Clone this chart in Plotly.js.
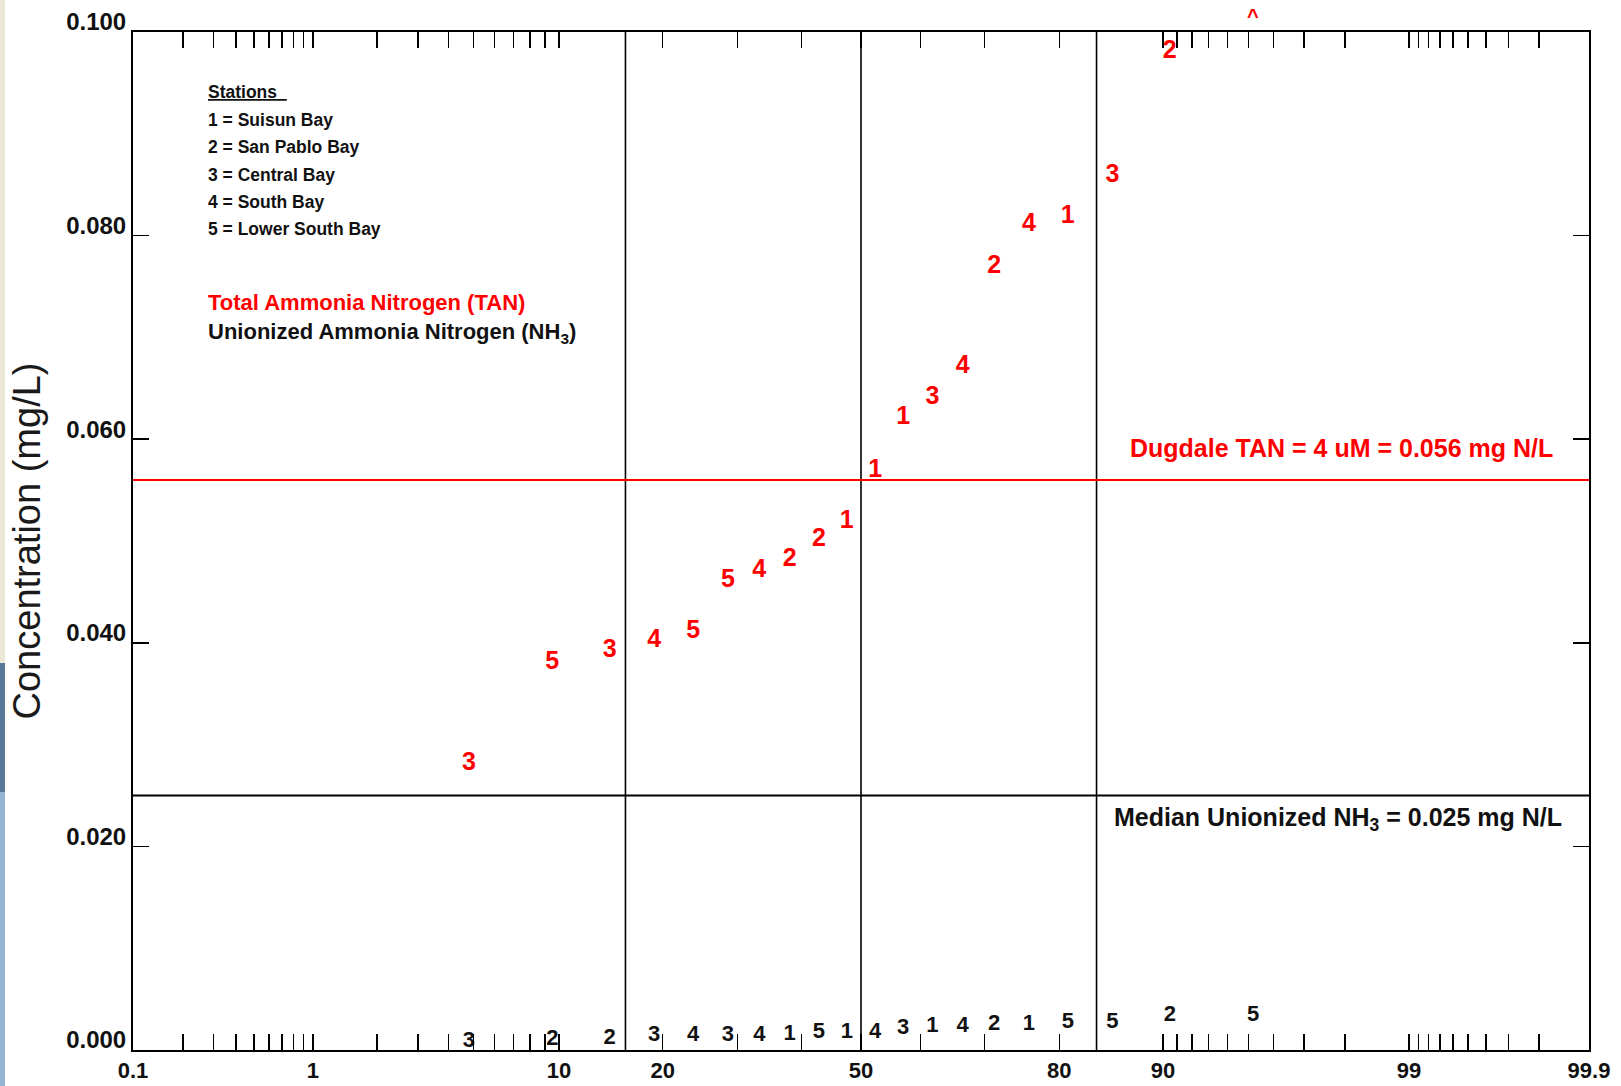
<!DOCTYPE html>
<html>
<head>
<meta charset="utf-8">
<script src="https://cdn.plot.ly/plotly-3.0.1.min.js"></script>
<style>
  html, body { margin: 0; padding: 0; background: #ffffff; }
  #chart { width: 1621px; height: 1086px; }
</style>
</head>
<body>
<div id="chart"></div>
<script>
// ---------------- DATA ----------------
// Cumulative probability (%) plotting positions
const P_TAN = [4.8, 9.5, 14.3, 19.0, 23.8, 28.6, 33.3, 38.1, 42.9, 47.6, 52.4, 57.1, 61.9, 66.7, 71.4, 76.2, 81.0, 85.7, 90.5];
// Total Ammonia Nitrogen (mg/L)
const TAN = [0.0281, 0.0380, 0.0392, 0.0402, 0.0411, 0.0461, 0.0471, 0.0482, 0.0501, 0.0519, 0.0569, 0.0621, 0.0641, 0.0671, 0.0769, 0.0811, 0.0819, 0.0859, 0.0981];
const TAN_STATION = ['3', '5', '3', '4', '5', '5', '4', '2', '2', '1', '1', '1', '3', '4', '2', '4', '1', '3', '2'];
// Off-scale TAN value (above 0.100), shown with a caret
const P_TAN_OFF = [95.2];
const TAN_OFF = [0.1016];
const TAN_OFF_MARK = ['^'];

const P_NH3 = [4.8, 9.5, 14.3, 19.0, 23.8, 28.6, 33.3, 38.1, 42.9, 47.6, 52.4, 57.1, 61.9, 66.7, 71.4, 76.2, 81.0, 85.7, 90.5, 95.2];
// Unionized Ammonia Nitrogen (mg/L)
const NH3 = [0.0008, 0.0010, 0.0011, 0.0014, 0.0014, 0.0014, 0.0014, 0.0015, 0.0017, 0.0017, 0.0017, 0.0021, 0.0023, 0.0023, 0.0025, 0.0025, 0.0027, 0.0027, 0.0034, 0.0034];
const NH3_STATION = ['3', '2', '2', '3', '4', '3', '4', '1', '5', '1', '4', '3', '1', '4', '2', '1', '5', '5', '2', '5'];

// Axis: labelled probabilities and tick-mark probabilities (%)
const X_LABELS = [0.1, 1, 10, 20, 50, 80, 90, 99, 99.9];
const X_TICK_MARKS = [0.2, 0.3, 0.4, 0.5, 0.6, 0.7, 0.8, 0.9, 1, 2, 3, 4, 5, 6, 7, 8, 9, 10, 20, 30, 40, 60, 70, 80, 90,
                      91, 92, 93, 94, 95, 96, 97, 98, 99, 99.1, 99.2, 99.3, 99.4, 99.5, 99.6, 99.7, 99.8];
const Y_TICKS = [0, 0.02, 0.04, 0.06, 0.08, 0.10];
const Y_RANGE = [0, 0.1];
const X_RANGE_PCT = [0.1, 99.9];
const SIGMA_LINES_PCT = [15.87, 50, 84.13];

// Reference levels
const DUGDALE_TAN = 0.056;
const MEDIAN_NH3 = 0.025;

const STATIONS_TITLE = 'Stations';
const STATIONS = ['1 = Suisun Bay', '2 = San Pablo Bay', '3 = Central Bay', '4 = South Bay', '5 = Lower South Bay'];

// ---------------- NORMAL PROBABILITY SCALE ----------------
function probit(pct) {
  const p = pct / 100;
  const a = [-3.969683028665376e+01, 2.209460984245205e+02, -2.759285104469687e+02, 1.383577518672690e+02, -3.066479806614716e+01, 2.506628277459239e+00];
  const b = [-5.447609879822406e+01, 1.615858368580409e+02, -1.556989798598866e+02, 6.680131188771972e+01, -1.328068155288572e+01];
  const c = [-7.784894002430293e-03, -3.223964580411365e-01, -2.400758277161838e+00, -2.549732539343734e+00, 4.374664141464968e+00, 2.938163982698783e+00];
  const d = [7.784695709041462e-03, 3.224671290700398e-01, 2.445134137142996e+00, 3.754408661907416e+00];
  const plow = 0.02425, phigh = 1 - plow;
  let q, r;
  if (p < plow) {
    q = Math.sqrt(-2 * Math.log(p));
    return (((((c[0]*q+c[1])*q+c[2])*q+c[3])*q+c[4])*q+c[5]) / ((((d[0]*q+d[1])*q+d[2])*q+d[3])*q+1);
  } else if (p <= phigh) {
    q = p - 0.5; r = q*q;
    return (((((a[0]*r+a[1])*r+a[2])*r+a[3])*r+a[4])*r+a[5])*q / (((((b[0]*r+b[1])*r+b[2])*r+b[3])*r+b[4])*r+1);
  } else {
    q = Math.sqrt(-2 * Math.log(1 - p));
    return -(((((c[0]*q+c[1])*q+c[2])*q+c[3])*q+c[4])*q+c[5]) / ((((d[0]*q+d[1])*q+d[2])*q+d[3])*q+1);
  }
}

// ---------------- LAYOUT GEOMETRY ----------------
const W = 1621, H = 1086;
const M = { l: 133, r: 32, t: 32, b: 36 };
const PW = W - M.l - M.r, PH = H - M.t - M.b;
const pxX = px => (px - M.l) / PW;
const pxY = py => (H - M.b - py) / PH;

const FONT = 'Liberation Sans, Arial, Helvetica, sans-serif';
const RED = '#ff0000';
const INK = '#111111';

// Tick values (labelled + unlabelled marks)
const allTickPct = X_LABELS.concat(X_TICK_MARKS).sort((u, v) => u - v);
const tickvals = allTickPct.map(probit);
const ticktext = allTickPct.map(v => X_LABELS.indexOf(v) >= 0 ? String(v) : '');

const traces = [
  {
    type: 'scatter', mode: 'text',
    x: P_TAN.map(probit), y: TAN, text: TAN_STATION,
    textposition: 'middle center',
    textfont: { family: FONT, size: 25, color: RED, weight: 'bold' },
    cliponaxis: false, hoverinfo: 'skip', showlegend: false
  },
  {
    type: 'scatter', mode: 'text',
    x: P_NH3.map(probit), y: NH3, text: NH3_STATION,
    textposition: 'middle center',
    textfont: { family: FONT, size: 22, color: INK, weight: 'bold' },
    cliponaxis: false, hoverinfo: 'skip', showlegend: false
  }
];

const shapes = [];
// left-edge slide decoration
shapes.push({ type: 'rect', xref: 'paper', yref: 'paper', x0: pxX(0), x1: pxX(5), y0: pxY(0), y1: pxY(663), fillcolor: '#ece7d5', line: { width: 0 }, layer: 'below' });
shapes.push({ type: 'rect', xref: 'paper', yref: 'paper', x0: pxX(0), x1: pxX(5), y0: pxY(663), y1: pxY(792), fillcolor: '#587799', line: { width: 0 }, layer: 'below' });
shapes.push({ type: 'rect', xref: 'paper', yref: 'paper', x0: pxX(0), x1: pxX(5), y0: pxY(792), y1: pxY(1086), fillcolor: '#98b4d3', line: { width: 0 }, layer: 'below' });
// sigma lines
SIGMA_LINES_PCT.forEach(p => shapes.push({
  type: 'line', xref: 'x', yref: 'paper', x0: probit(p), x1: probit(p), y0: 0, y1: 1,
  line: { color: '#000000', width: 1.6 }
}));
shapes.push({ type: 'line', xref: 'paper', yref: 'y', x0: 0, x1: 1, y0: DUGDALE_TAN, y1: DUGDALE_TAN, line: { color: RED, width: 2 } });
shapes.push({ type: 'line', xref: 'paper', yref: 'y', x0: 0, x1: 1, y0: MEDIAN_NH3, y1: MEDIAN_NH3, line: { color: '#000000', width: 2 } });

const annotations = [];
function leftNote(text, py, size, color) {
  annotations.push({
    xref: 'paper', yref: 'paper', x: pxX(206), y: pxY(py),
    xanchor: 'left', yanchor: 'middle', showarrow: false,
    text: text, align: 'left',
    font: { family: FONT, size: size, color: color, weight: 'bold' }
  });
}
leftNote('<span style="text-decoration:underline">' + STATIONS_TITLE + '\u00a0\u00a0</span>', 92, 17.5, INK);
STATIONS.forEach((s, i) => leftNote(s, 120 + i * 27.3, 17.5, INK));
leftNote('Total Ammonia Nitrogen (TAN)', 302, 22, RED);
leftNote('Unionized Ammonia Nitrogen (NH<sub>3</sub>)', 333, 22, INK);

// off-scale value: caret drawn just above the top of the axis (value beyond range)
P_TAN_OFF.forEach((p, i) => annotations.push({
  xref: 'x', yref: 'paper', x: probit(p), y: (TAN_OFF[i] - Y_RANGE[0]) / (Y_RANGE[1] - Y_RANGE[0]),
  xanchor: 'center', yanchor: 'middle', showarrow: false,
  text: TAN_OFF_MARK[i],
  font: { family: FONT, size: 20, color: RED, weight: 'bold' }
}));

annotations.push({
  xref: 'paper', yref: 'y', x: 1, y: DUGDALE_TAN, xanchor: 'right', yanchor: 'middle',
  xshift: -34, yshift: 32, showarrow: false,
  text: 'Dugdale TAN = 4 uM = ' + DUGDALE_TAN.toFixed(3) + ' mg N/L',
  font: { family: FONT, size: 25, color: RED, weight: 'bold' }
});
annotations.push({
  xref: 'paper', yref: 'y', x: 1, y: MEDIAN_NH3, xanchor: 'right', yanchor: 'middle',
  xshift: -25, yshift: -23, showarrow: false,
  text: 'Median Unionized NH<sub>3</sub> = ' + MEDIAN_NH3.toFixed(3) + ' mg N/L',
  font: { family: FONT, size: 25, color: INK, weight: 'bold' }
});

const layout = {
  width: W, height: H,
  margin: M,
  paper_bgcolor: '#ffffff', plot_bgcolor: '#ffffff',
  showlegend: false,
  xaxis: {
    range: [probit(X_RANGE_PCT[0]) - 1e-9, probit(X_RANGE_PCT[1]) + 1e-9],
    tickmode: 'array', tickvals: tickvals, ticktext: ticktext,
    ticks: 'inside', ticklen: 16, tickwidth: 1.5, tickcolor: '#000',
    showline: true, linecolor: '#000', linewidth: 2, mirror: 'ticks',
    showgrid: false, zeroline: false,
    tickfont: { family: FONT, size: 22, color: INK, weight: 'bold' },
    fixedrange: true
  },
  yaxis: {
    range: Y_RANGE,
    tickmode: 'array', tickvals: Y_TICKS, tickformat: '.3f',
    ticks: 'inside', ticklen: 16, tickwidth: 1.5, tickcolor: '#000',
    showline: true, linecolor: '#000', linewidth: 2, mirror: 'ticks',
    showgrid: false, zeroline: false,
    ticklabelshift: -10,
    tickfont: { family: FONT, size: 24, color: INK, weight: 'bold' },
    title: { text: 'Concentration (mg/L)', font: { family: FONT, size: 38, color: '#1a1a1a' }, standoff: 14 },
    fixedrange: true
  },
  shapes: shapes,
  annotations: annotations
};

Plotly.newPlot('chart', traces, layout, { displayModeBar: false, staticPlot: true });
</script>
</body>
</html>
